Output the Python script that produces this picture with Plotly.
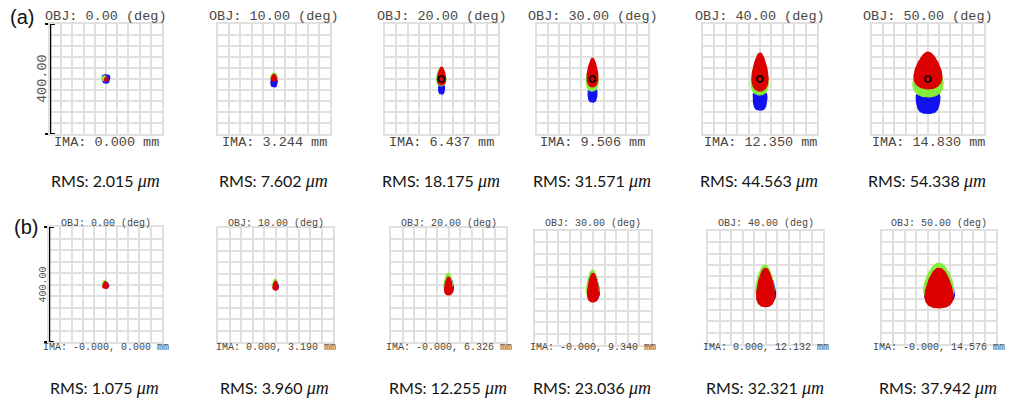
import numpy as np
import plotly.graph_objects as go

W, H = 1009, 400

# Field angles and image heights
fields_deg = [0, 10, 20, 30, 40, 50]
ima_a = ["0.000", "3.244", "6.437", "9.506", "12.350", "14.830"]
ima_b = ["-0.000, 0.000", "0.000, 3.190", "-0.000, 6.326",
         "-0.000, 9.340", "0.000, 12.132", "-0.000, 14.576"]
rms_a = [2.015, 7.602, 18.175, 31.571, 44.563, 54.338]
rms_b = [1.075, 3.960, 12.255, 23.036, 32.321, 37.942]
scale_um = 400.0

# Spot extents in µm per field: (top, bottom, half-width, x offset)
a_blue = [(15, -15, 15, 0), (0, -29, 13, 0), (-20, -55, 12, 0),
          (-36, -84, 18, 0), (-44, -113, 27, 0), (-44, -125, 47, 0)]
a_green = [(12, -6, 10, -5), (22, -4, 12, 0), (40, -25, 17, -1),
           (60, -44, 22, -1), (70, -58, 31, -1), (70, -65, 55, 0)]
a_red = [(8, -8, 7, 1), (18, -8, 10, 0), (44, -22, 15, 0),
         (76, -29, 20, 0), (95, -44, 29, 0), (98, -36, 51, 0)]

b_blue = [(8, -10, 10, 2), (14, -16, 9, 1), (30, -30, 15, 2),
          (45, -42, 20, 2), (55, -55, 32, 3), (60, -60, 52, 2)]
b_green = [(14, -2, 8, -3), (21, -8, 9, -1), (42, -22, 15, -1),
           (63, -38, 21, -1.5), (79, -45, 32, -2), (86, -50, 53, -1)]
b_red = [(10, -14, 10, 0), (14, -18, 9, 0), (28, -35, 14, 0),
         (52, -49, 19, 0), (68, -68, 31, 0), (68, -72, 49, 0)]

# Panel boxes in pixels: (x0, x1, y0, y1)
boxes_a = [(50, 162, 24, 134), (218, 330, 24, 134), (385, 498, 24, 134),
           (537, 648, 24, 134), (703, 817, 24, 134), (872, 984, 24, 134)]
boxes_b = [(49, 162, 227, 342), (218, 333, 228, 342), (391, 506, 228, 342),
           (535, 651, 231, 345), (708, 823, 231, 344), (882, 996, 231, 344)]

RED, GREEN, BLUE = "#dc0000", "#86ec3a", "#1212f0"
GRID = "#e0e0e0"
MONO = "Liberation Mono, DejaVu Sans Mono, monospace"
TXT = "#4a4642"


def px(x):
    return x / W


def py(y):
    return 1 - y / H


def outline(top, bottom, half, dx, k, n):
    """Closed egg-shaped contour; k < 0 narrows the upper end, n > 2 squares it off."""
    t = np.linspace(0, 2 * np.pi, 160)
    s, c = np.sin(t), np.cos(t)
    sx = np.sign(s) * np.abs(s) ** (2 / n)
    cy = np.sign(c) * np.abs(c) ** (2 / n)
    prof = 1 + k * cy
    prof = prof / prof.max() if k > 0 else prof / (1 + abs(k) * 0.25)
    xs = dx + half * sx * prof
    ys = (top + bottom) / 2 + (top - bottom) / 2 * cy
    return xs, ys


fig = go.Figure()
annotations = []

rows = [
    (boxes_a, [(a_blue, BLUE, 0.15, 3.2), (a_green, GREEN, -0.3, 2.2), (a_red, RED, -0.4, 2.1)],
     ima_a, rms_a, 13.5, True, (17, 142, 181)),
    (boxes_b, [(b_blue, BLUE, -0.4, 2.4), (b_green, GREEN, -0.4, 2.3), (b_red, RED, -0.4, 2.4)],
     ima_b, rms_b, 10, False, (223, 347, 388)),
]

idx = 0
for r, (boxes, spots, ima, rms, fsize, chief, ty) in enumerate(rows):
    t_obj, t_ima, t_rms = ty
    for i, (x0, x1, y0, y1) in enumerate(boxes):
        idx += 1
        xa = "x" if idx == 1 else f"x{idx}"
        ya = "y" if idx == 1 else f"y{idx}"
        xk = "xaxis" if idx == 1 else f"xaxis{idx}"
        yk = "yaxis" if idx == 1 else f"yaxis{idx}"
        half_range = scale_um / 2
        axis_common = dict(range=[-half_range, half_range], dtick=scale_um / 10,
                           tick0=0, showgrid=True, gridcolor=GRID, gridwidth=1.5,
                           zeroline=False, showticklabels=False, ticks="",
                           showline=True, mirror=True, linecolor=GRID, linewidth=1.5,
                           fixedrange=True)
        fig.update_layout(**{
            xk: dict(domain=[px(x0), px(x1)], anchor=ya, **axis_common),
            yk: dict(domain=[py(y1), py(y0)], anchor=xa, **axis_common),
        })
        for data, col, k, n in spots:
            top, bot, hw, dx = data[i]
            xs, ys = outline(top, bot, hw, dx, k, n)
            fig.add_trace(go.Scatter(x=xs, y=ys, xaxis=xa, yaxis=ya, mode="lines",
                                     fill="toself", fillcolor=col,
                                     line=dict(color=col, width=1.2),
                                     hoverinfo="skip", showlegend=False))
        if chief and i >= 2:
            fig.add_trace(go.Scatter(x=[0], y=[0], xaxis=xa, yaxis=ya, mode="markers",
                                     marker=dict(symbol="circle-open", size=6,
                                                 color="black", line=dict(width=1.6)),
                                     hoverinfo="skip", showlegend=False))

        cx = (x0 + x1) / 2
        annotations.append(dict(x=px(cx), y=py(t_obj), xref="paper", yref="paper",
                                text=f"OBJ: {fields_deg[i]:.2f} (deg)", showarrow=False,
                                font=dict(family=MONO, size=fsize, color=TXT),
                                xanchor="center", yanchor="middle"))
        annotations.append(dict(x=px(cx), y=py(t_ima), xref="paper", yref="paper",
                                text=f"IMA: {ima[i]} mm", showarrow=False,
                                font=dict(family=MONO, size=fsize, color=TXT),
                                xanchor="center", yanchor="middle"))
        annotations.append(dict(x=px(cx - 1), y=py(t_rms), xref="paper", yref="paper",
                                text=(f"RMS: {rms[i]:.3f} "
                                      "<span style='font-family:Liberation Serif;"
                                      "font-style:italic;font-size:18px'>μm</span>"),
                                showarrow=False,
                                font=dict(family="Lato, Open Sans, sans-serif", size=16,
                                          color="#141414"),
                                xanchor="center", yanchor="middle"))

        # scale bar on the first panel of each row
        if i == 0:
            fig.add_trace(go.Scatter(x=[-half_range, -half_range],
                                     y=[-scale_um / 2, scale_um / 2],
                                     xaxis=xa, yaxis=ya, mode="lines+markers",
                                     line=dict(color="black", width=2.5),
                                     marker=dict(symbol="line-ew-open", size=7,
                                                 color="black", line=dict(width=2)),
                                     cliponaxis=False, hoverinfo="skip",
                                     showlegend=False))
            annotations.append(dict(x=-half_range, y=0, xref=xa, yref=ya,
                                    text=f"{scale_um:.2f}", textangle=-90,
                                    showarrow=False, xshift=-8 if r == 0 else -6,
                                    font=dict(family=MONO, size=fsize, color="#55524e"),
                                    xanchor="center", yanchor="middle"))

annotations.append(dict(x=px(22), y=py(17), xref="paper", yref="paper", text="(a)",
                        showarrow=False, font=dict(family="Liberation Sans, Arial",
                                                   size=20, color="#111"),
                        xanchor="center", yanchor="middle"))
annotations.append(dict(x=px(26), y=py(227), xref="paper", yref="paper", text="(b)",
                        showarrow=False, font=dict(family="Liberation Sans, Arial",
                                                   size=20, color="#111"),
                        xanchor="center", yanchor="middle"))

fig.update_layout(width=W, height=H, margin=dict(l=0, r=0, t=0, b=0),
                  paper_bgcolor="white", plot_bgcolor="white",
                  annotations=annotations, showlegend=False)

fig.write_html("out.html", config={"displayModeBar": False})
